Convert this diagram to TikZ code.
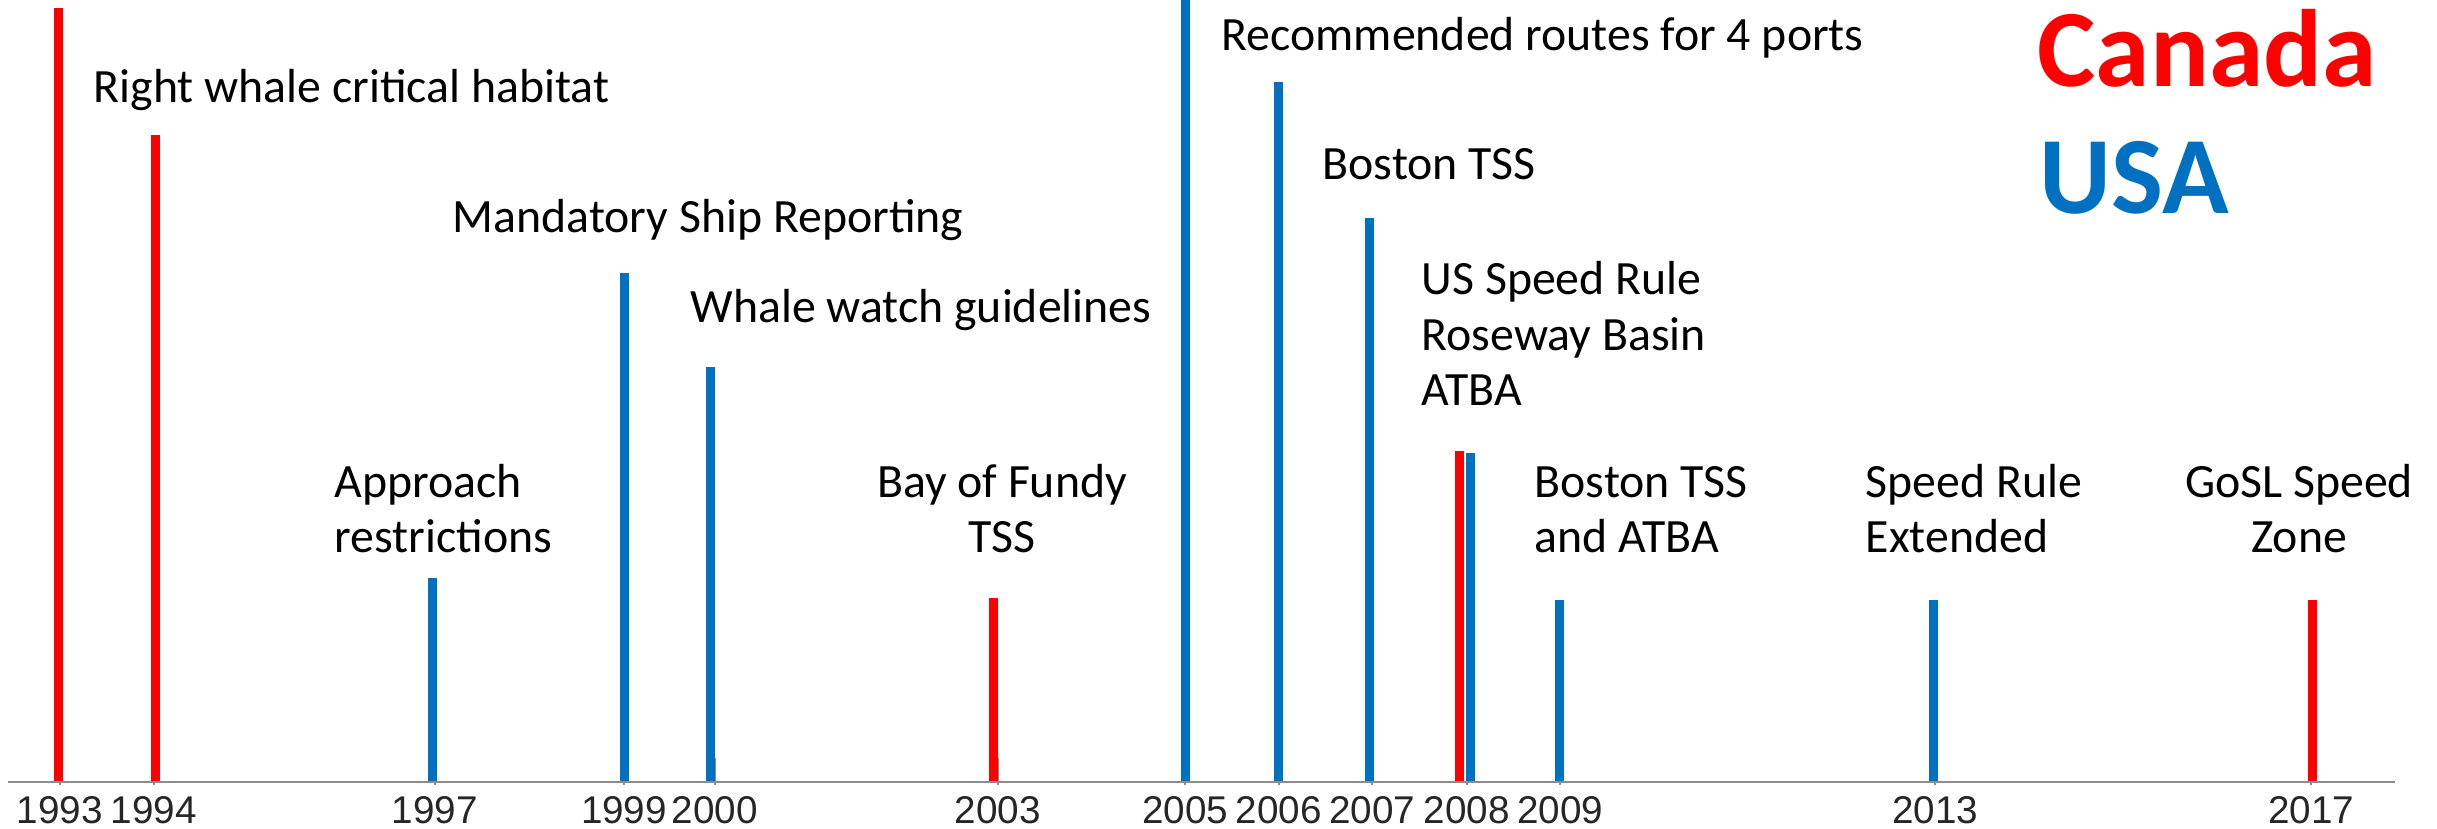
\documentclass[tikz,border=0pt]{standalone}
\usepackage{fontspec}
\setmainfont{Carlito}
\newfontfamily\yearfont{Liberation Sans}
\usetikzlibrary{positioning}
\definecolor{CanRed}{RGB}{255,0,0}
\definecolor{UsaBlue}{RGB}{0,112,192}
\definecolor{AxisGray}{RGB}{140,140,140}

\begin{document}
\begin{tikzpicture}[
  x=0.1mm, y=-0.1mm,
  can/.style={line width=0.9mm, CanRed},
  usa/.style={line width=0.9mm, UsaBlue},
  tick/.style={line width=0.2mm, AxisGray},
  event/.style={inner sep=0pt, anchor=base west, align=left,
    font=\fontsize{13.6}{15.9}\selectfont},
  year/.style={inner sep=0pt, anchor=base,
    font=\yearfont\fontsize{11}{12}\selectfont, text=black!85},
  legend/.style={inner sep=0pt, anchor=base west,
    font=\bfseries\fontsize{31.3}{36}\selectfont}
]
\useasboundingbox (0,0) rectangle (2437,829);

% axis and ticks
\draw[AxisGray, line width=0.25mm] (8,782) -- (2395,782);
\draw[tick] (59.7,758) -- (59.7,785);
\draw[tick] (153.8,758) -- (153.8,785);
\draw[tick] (434.6,758) -- (434.6,785);
\draw[tick] (624,758) -- (624,785);
\draw[tick] (714.7,758) -- (714.7,785);
\draw[tick] (997.6,758) -- (997.6,785);
\draw[tick] (1185.3,758) -- (1185.3,785);
\draw[tick] (1278.9,758) -- (1278.9,785);
\draw[tick] (1372.4,758) -- (1372.4,785);
\draw[tick] (1466.6,758) -- (1466.6,785);
\draw[tick] (1560.2,758) -- (1560.2,785);
\draw[tick] (1935,758) -- (1935,785);
\draw[tick] (2311,758) -- (2311,785);

% years
\node[year] (y1993) at (59.7,824) {1993};
\node[year] (y1994) at (153.8,824) {1994};
\node[year] (y1997) at (434.6,824) {1997};
\node[year] (y1999) at (624,824) {1999};
\node[year] (y2000) at (714.7,824) {2000};
\node[year] (y2003) at (997.6,824) {2003};
\node[year] (y2005) at (1185.3,824) {2005};
\node[year] (y2006) at (1278.9,824) {2006};
\node[year] (y2007) at (1372.4,824) {2007};
\node[year] (y2008) at (1466.6,824) {2008};
\node[year] (y2009) at (1560.2,824) {2009};
\node[year] (y2013) at (1935,824) {2013};
\node[year] (y2017) at (2311,824) {2017};

% bars
\draw[can] (58.5,781) -- (58.5,8);
\draw[can] (155.5,781) -- (155.5,135);
\draw[usa] (432,781) -- (432,578);
\draw[usa] (624,781) -- (624,273);
\draw[usa] (710.5,781) -- (710.5,367);
\draw[can] (993.5,781) -- (993.5,598);
\draw[usa] (1185.5,781) -- (1185.5,0);
\draw[usa] (1278.5,781) -- (1278.5,82);
\draw[usa] (1369,781) -- (1369,218);
\draw[can] (1459.5,781) -- (1459.5,451);
\draw[usa] (1470.5,781) -- (1470.5,453);
\draw[usa] (1559,781) -- (1559,600);
\draw[usa] (1933.5,781) -- (1933.5,600);
\draw[can] (2312,781) -- (2312,600);

% event labels (base = last line)
\node[event] (habitat) at (93,103) {Right whale critical habitat};
\node[event] (reporting) at (452,233) {Mandatory Ship Reporting};
\node[event] (watch) at (690,323) {Whale watch guidelines};
\node[event] (approach) at (334,553) {Approach\\restrictions};
\node[event, align=center, anchor=base] (fundy) at (1002,553) {Bay of Fundy\\TSS};
\node[event] (routes) at (1221,51) {Recommended routes for 4 ports};
\node[event] (boston) at (1322,180) {Boston TSS};
\node[event] (speedrule) at (1421,406) {US Speed Rule\\Roseway Basin\\ATBA};
\node[event] (bostonatba) at (1534,553) {Boston TSS\\and ATBA};
\node[event] (extended) at (1865,553) {Speed Rule\\Extended};
\node[event, align=center, anchor=base] (gosl) at (2299,553) {GoSL Speed\\Zone};

% legend
\node[legend, text=CanRed] (canada) at (2037,87) {Canada};
\node[legend, text=UsaBlue] (usa) at (2039,214) {USA};

\end{tikzpicture}
\end{document}
